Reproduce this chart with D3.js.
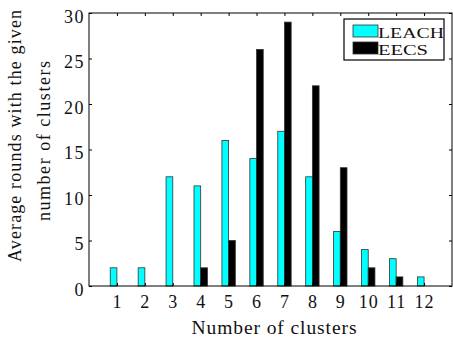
<!DOCTYPE html>
<html>
<head>
<meta charset="utf-8">
<script src="https://cdn.jsdelivr.net/npm/d3@7"></script>
<style>
  body { margin: 0; background: #fff; }
  svg { display: block; }
</style>
</head>
<body>
<figure id="bar-chart" style="margin:0"></figure>
<script>
// data
const clusters = [1, 2, 3, 4, 5, 6, 7, 8, 9, 10, 11, 12];
const leach = [2, 2, 12, 11, 16, 14, 17, 12, 6, 4, 3, 1];
const eecs = [0, 0, 0, 2, 5, 26, 29, 22, 13, 2, 1, 0];
const seriesNames = ["LEACH", "EECS"];
const seriesColors = ["#00ffff", "#000000"];
const yTicks = [0, 5, 10, 15, 20, 25, 30];

const width = 453, height = 341;
const plot = {left: 89, right: 452, top: 13, bottom: 286};
const barW = 0.24; // in x units
const serif = "'Liberation Serif', 'DejaVu Serif', serif";

const svg = d3.select("figure#bar-chart")
  .append("svg")
  .attr("width", width)
  .attr("height", height);

const x = d3.scaleLinear().domain([0, 13]).range([plot.left, plot.right]);
const y = d3.scaleLinear().domain([0, 30]).range([plot.bottom, plot.top]);

// bars, one group per series
const series = [leach, eecs];
series.forEach((vals, s) => {
  svg.append("g")
    .selectAll("rect")
    .data(clusters.map((c, i) => ({c: c, v: vals[i]})))
    .enter()
    .append("rect")
    .attr("x", d => x(s === 0 ? d.c - barW : d.c))
    .attr("y", d => y(d.v))
    .attr("width", x(barW) - x(0))
    .attr("height", d => y(0) - y(d.v))
    .attr("fill", seriesColors[s])
    .attr("stroke", "#333")
    .attr("stroke-width", 0.8);
});

// axes: matlab style box with inward ticks
const xAxis = svg.append("g")
  .attr("transform", "translate(0," + plot.bottom + ")")
  .call(d3.axisBottom(x).tickValues(clusters).tickSizeInner(-3).tickSizeOuter(0).tickPadding(9));

svg.append("g")
  .attr("transform", "translate(0," + plot.top + ")")
  .call(d3.axisTop(x).tickValues(clusters).tickSizeInner(-3).tickSizeOuter(0).tickFormat(""));

const yAxis = svg.append("g")
  .attr("transform", "translate(" + plot.left + ",0)")
  .call(d3.axisLeft(y).tickValues(yTicks).tickSizeInner(-3).tickSizeOuter(0).tickPadding(4));
yAxis.selectAll("text").attr("dy", "0.5em");

svg.append("g")
  .attr("transform", "translate(" + plot.right + ",0)")
  .call(d3.axisRight(y).tickValues(yTicks).tickSizeInner(-3).tickSizeOuter(0).tickFormat(""));

svg.selectAll(".domain").remove();
svg.selectAll(".tick line").attr("stroke", "#000");
svg.selectAll("g").attr("font-family", null).attr("font-size", null);

// frame
svg.append("rect")
  .attr("x", plot.left).attr("y", plot.top)
  .attr("width", plot.right - plot.left).attr("height", plot.bottom - plot.top)
  .attr("fill", "none").attr("stroke", "#000").attr("stroke-width", 1);

// axis labels
svg.append("text")
  .attr("class", "lab")
  .attr("x", 274).attr("y", 334)
  .attr("text-anchor", "middle")
  .attr("textLength", 165).attr("lengthAdjust", "spacing")
  .text("Number of clusters");

const yl = svg.append("g").attr("transform", "rotate(-90)");
yl.append("text")
  .attr("class", "ylab")
  .attr("x", -136).attr("y", 21)
  .attr("text-anchor", "middle")
  .attr("textLength", 252).attr("lengthAdjust", "spacing")
  .text("Average rounds with the given");
yl.append("text")
  .attr("class", "ylab")
  .attr("x", -141).attr("y", 50)
  .attr("text-anchor", "middle")
  .attr("textLength", 160).attr("lengthAdjust", "spacing")
  .text("number of clusters");

// legend
const legend = svg.append("g");
legend.append("rect")
  .attr("x", 344).attr("y", 19).attr("width", 100).attr("height", 41)
  .attr("fill", "#fff").attr("stroke", "#000").attr("stroke-width", 1.2);
const lens = [66, 50];
seriesNames.forEach((name, i) => {
  legend.append("rect")
    .attr("x", 353).attr("y", 25 + i * 17).attr("width", 25).attr("height", 12)
    .attr("fill", seriesColors[i]).attr("stroke", "#333").attr("stroke-width", 0.8);
  legend.append("text")
    .attr("class", "leg")
    .attr("x", 378).attr("y", 38 + i * 17)
    .attr("textLength", lens[i]).attr("lengthAdjust", "spacingAndGlyphs")
    .text(name);
});

// fonts set on each text directly
svg.selectAll("text")
  .style("font-family", serif)
  .style("font-size", "18px")
  .style("fill", "#111");
xAxis.selectAll("text").style("letter-spacing", "1px");
yAxis.selectAll("text").style("letter-spacing", "1.5px");
svg.selectAll("text.lab").style("font-size", "19.5px");
svg.selectAll("text.ylab").style("font-size", "18px");
svg.selectAll("text.leg").style("font-size", "14.5px");
</script>
</body>
</html>
